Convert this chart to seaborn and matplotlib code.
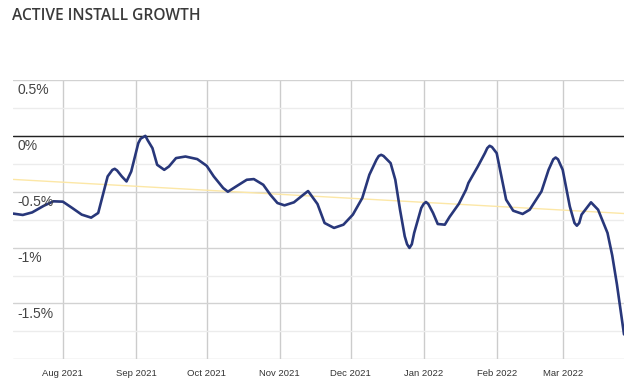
import matplotlib
matplotlib.use('Agg')
from matplotlib import pyplot as plt
import seaborn as sns
import pandas as pd

# Readings of the active install growth curve (percent)
dates = [
    '2021-07-11', '2021-07-15', '2021-07-19', '2021-07-24', '2021-07-28',
    '2021-08-01', '2021-08-05', '2021-08-09', '2021-08-13', '2021-08-16',
    '2021-08-18', '2021-08-20', '2021-08-22', '2021-08-23', '2021-08-24',
    '2021-08-26', '2021-08-28', '2021-08-30', '2021-09-02', '2021-09-03',
    '2021-09-05', '2021-09-06', '2021-09-08', '2021-09-10', '2021-09-13',
    '2021-09-15', '2021-09-18', '2021-09-22', '2021-09-27', '2021-10-01',
    '2021-10-04', '2021-10-08', '2021-10-10', '2021-10-14', '2021-10-18',
    '2021-10-21', '2021-10-25', '2021-10-28', '2021-10-31', '2021-11-03',
    '2021-11-07', '2021-11-11', '2021-11-13', '2021-11-17', '2021-11-20',
    '2021-11-24', '2021-11-28', '2021-12-02', '2021-12-06', '2021-12-09',
    '2021-12-12', '2021-12-13', '2021-12-14', '2021-12-15', '2021-12-18',
    '2021-12-20', '2021-12-22', '2021-12-24', '2021-12-25', '2021-12-26',
    '2021-12-27', '2021-12-28', '2021-12-31', '2022-01-01', '2022-01-02',
    '2022-01-03', '2022-01-05', '2022-01-07', '2022-01-10', '2022-01-12',
    '2022-01-16', '2022-01-19', '2022-01-20', '2022-01-24', '2022-01-27',
    '2022-01-28', '2022-01-29', '2022-01-30', '2022-02-01', '2022-02-03',
    '2022-02-05', '2022-02-08', '2022-02-12', '2022-02-15', '2022-02-20',
    '2022-02-23', '2022-02-25', '2022-02-26', '2022-02-27', '2022-03-01',
    '2022-03-04', '2022-03-06', '2022-03-07', '2022-03-08', '2022-03-09',
    '2022-03-13', '2022-03-16', '2022-03-20', '2022-03-22', '2022-03-24',
    '2022-03-27',
]
growth = [
    -0.696, -0.708, -0.685, -0.625, -0.586,
    -0.589, -0.646, -0.705, -0.732, -0.690,
    -0.527, -0.363, -0.305, -0.295, -0.310,
    -0.363, -0.408, -0.319, -0.065, -0.025,
    0.000, -0.040, -0.110, -0.259, -0.304,
    -0.274, -0.199, -0.185, -0.208, -0.268,
    -0.363, -0.467, -0.500, -0.446, -0.393,
    -0.387, -0.438, -0.527, -0.601, -0.622,
    -0.595, -0.527, -0.494, -0.610, -0.780,
    -0.824, -0.795, -0.705, -0.556, -0.348,
    -0.214, -0.180, -0.170, -0.180, -0.244,
    -0.393, -0.661, -0.899, -0.970, -1.003,
    -0.970, -0.869, -0.646, -0.610, -0.592,
    -0.610, -0.690, -0.789, -0.795, -0.726,
    -0.607, -0.482, -0.422, -0.274, -0.155,
    -0.110, -0.089, -0.100, -0.155, -0.363,
    -0.571, -0.670, -0.699, -0.661, -0.497,
    -0.304, -0.210, -0.194, -0.210, -0.304,
    -0.631, -0.780, -0.804, -0.780, -0.705,
    -0.595, -0.661, -0.869, -1.070, -1.330,
    -1.777,
]

# Linear trend line end points
trend_dates = ['2021-07-11', '2022-03-27']
trend_values = [-0.39, -0.695]

# Axis ticks
y_ticks = [-2.0, -1.5, -1.0, -0.5, 0.0, 0.5]
y_tick_labels = ['', '-1.5%', '-1%', '-0.5%', '0%', '0.5%']
y_minor_ticks = [-1.75, -1.25, -0.75, -0.25, 0.25]
month_ticks = ['2021-08-01', '2021-09-01', '2021-10-01', '2021-11-01',
               '2021-12-01', '2022-01-01', '2022-02-01', '2022-03-01']
month_labels = ['Aug 2021', 'Sep 2021', 'Oct 2021', 'Nov 2021',
                'Dec 2021', 'Jan 2022', 'Feb 2022', 'Mar 2022']

df = pd.DataFrame({'date': pd.to_datetime(dates), 'growth': growth})
trend = pd.DataFrame({'date': pd.to_datetime(trend_dates), 'growth': trend_values})

sns.set_style('white')
plt.rcParams['font.family'] = ['Liberation Sans', 'DejaVu Sans']

fig = plt.figure(figsize=(6.41, 3.90), dpi=100)
ax = fig.add_axes([0.0208, 0.0787, 0.9527, 0.7162])
ax.set_axisbelow(True)

# Trend line and main series
sns.lineplot(data=trend, x='date', y='growth', ax=ax, color='#fce7a6', linewidth=1.0, zorder=2)
sns.lineplot(data=df, x='date', y='growth', ax=ax, color='#28377a', linewidth=1.9, zorder=3)
ax.axhline(0, color='#222222', linewidth=1.0, zorder=2)

ax.set_xlim(pd.Timestamp(dates[0]), pd.Timestamp(dates[-1]))
ax.set_ylim(-2.0, 0.5)

# Gridlines
ax.set_yticks(y_ticks)
ax.set_yticks(y_minor_ticks, minor=True)
ax.set_yticklabels([])
ax.grid(axis='y', which='major', color='#d2d2d2', linewidth=1.0)
ax.grid(axis='y', which='minor', color='#ececec', linewidth=1.0)
ax.set_xticks(pd.to_datetime(month_ticks))
ax.set_xticklabels(month_labels)
ax.grid(axis='x', which='major', color='#cccccc', linewidth=1.0)
ax.tick_params(axis='x', length=0, pad=7, labelsize=6.8, labelcolor='#333333')
ax.tick_params(axis='y', which='both', length=0)

# Y labels drawn inside the plot, just below their gridlines
for val, lab in zip(y_ticks, y_tick_labels):
    if lab:
        ax.annotate(lab, xy=(0, val), xycoords=ax.get_yaxis_transform(),
                    xytext=(3, -2.5), textcoords='offset points',
                    ha='left', va='top', fontsize=10, color='#444444', zorder=4)

for side in ['top', 'right', 'left', 'bottom']:
    ax.spines[side].set_visible(False)

ax.set_xlabel('')
ax.set_ylabel('')

fig.text(12 / 641, 1 - 16 / 390, 'ACTIVE INSTALL GROWTH', ha='left', va='center',
         fontsize=11.2, fontweight='semibold', family='Open Sans', color='#3a3a3a')

plt.savefig('out.png', dpi=100)
plt.close()
